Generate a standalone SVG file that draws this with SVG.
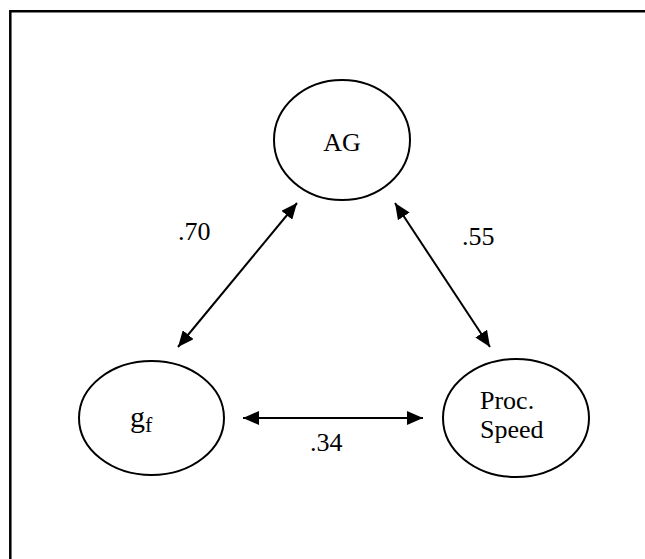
<svg xmlns="http://www.w3.org/2000/svg" width="645" height="559" viewBox="0 0 645 559">
  <style>
    .node ellipse { fill: #ffffff; stroke: #000000; stroke-width: 2; }
    .lbl { font-family: "Liberation Serif", "Times New Roman", serif; font-size: 26px; fill: #000000; }
    .edge { stroke: #000000; stroke-width: 2; fill: none; marker-start: url(#head); marker-end: url(#head); }
    .frame { fill: none; stroke: #000000; stroke-width: 2.5; }
  </style>
  <defs>
    <marker id="head" viewBox="0 0 16 14" refX="16" refY="7" markerWidth="16" markerHeight="14" markerUnits="userSpaceOnUse" orient="auto-start-reverse">
      <path d="M0,0 L16,7 L0,14 z" fill="#000000"/>
    </marker>
  </defs>

  <rect width="645" height="559" fill="#ffffff"/>
  <!-- outer frame -->
  <path class="frame" d="M10.3,559 V11.2 H645"/>

  <g id="node-ag" class="node">
    <ellipse cx="342" cy="140" rx="68" ry="60"/>
    <text class="lbl" x="342" y="151" text-anchor="middle">AG</text>
  </g>

  <g id="node-gf" class="node">
    <ellipse cx="151.5" cy="418" rx="72.5" ry="57"/>
    <text class="lbl" x="130" y="427" style="font-size:30px">g<tspan style="font-size:22px" dy="5">f</tspan></text>
  </g>

  <g id="node-speed" class="node">
    <ellipse cx="516" cy="418" rx="73" ry="59"/>
    <text class="lbl" x="480" y="409">Proc.</text>
    <text class="lbl" x="480" y="438">Speed</text>
  </g>

  <g id="connectors">
    <line class="edge" x1="178" y1="347" x2="297" y2="203"/>
    <line class="edge" x1="490" y1="347" x2="395" y2="203"/>
    <line class="edge" x1="243" y1="418" x2="423" y2="418"/>
    <text class="lbl" x="178" y="240">.70</text>
    <text class="lbl" x="462" y="245">.55</text>
    <text class="lbl" x="310" y="451">.34</text>
  </g>
</svg>
